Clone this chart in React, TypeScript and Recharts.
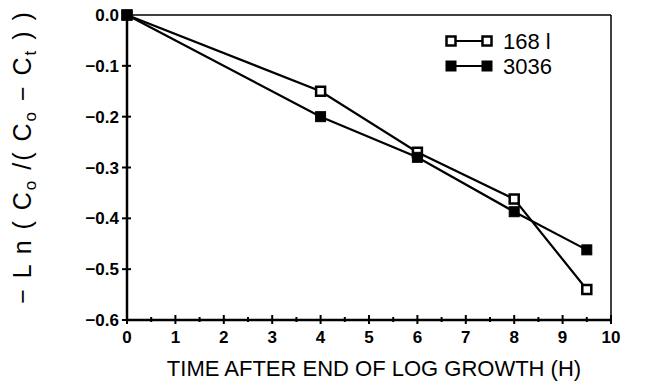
import React from "react";
import { LineChart, Line, XAxis, YAxis, ReferenceLine } from "recharts";

const times = [0, 4, 6, 8, 9.5];
const series1681 = [0, -0.15, -0.27, -0.362, -0.54];
const series3036 = [0, -0.2, -0.28, -0.387, -0.462];
const xTicks = [0, 0.5, 1, 1.5, 2, 2.5, 3, 3.5, 4, 4.5, 5, 5.5, 6, 6.5, 7, 7.5, 8, 8.5, 9, 9.5, 10];
const yTicks = [0, -0.1, -0.2, -0.3, -0.4, -0.5, -0.6];
const legendLabels = ["168 l", "3036"];
const xTitle = "TIME AFTER END OF LOG GROWTH (H)";

const data = times.map((t, i) => ({ t, a: series1681[i], b: series3036[i] }));

const FONT = "'Liberation Sans', Arial, sans-serif";

const OpenSq = (props: any) => {
  const { cx, cy } = props;
  if (cx == null || cy == null) return null;
  return <rect x={cx - 4.5} y={cy - 4.5} width={9} height={9} fill="#fff" stroke="#000" strokeWidth={2.5} />;
};
const FillSq = (props: any) => {
  const { cx, cy } = props;
  if (cx == null || cy == null) return null;
  return <rect x={cx - 5} y={cy - 5} width={10} height={10} fill="#000" stroke="#000" strokeWidth={1} />;
};

const XTick = (props: any) => {
  const { x, y, payload } = props;
  const v = payload.value;
  const major = Number.isInteger(v);
  return (
    <g>
      <line x1={x} x2={x} y1={y - (major ? 5 : 3)} y2={y + (major ? 4 : 2)} stroke="#000" strokeWidth={2} />
      {major && (
        <text x={x} y={y + 23} textAnchor="middle" fontFamily={FONT} fontWeight="bold" fontSize={17} fill="#000">
          {v}
        </text>
      )}
    </g>
  );
};

const YTick = (props: any) => {
  const { x, y, payload } = props;
  const v = payload.value;
  const label = v === 0 ? "0.0" : "\u2212" + Math.abs(v).toFixed(1);
  return (
    <g>
      <line x1={x - 5} x2={x + 4} y1={y} y2={y} stroke="#000" strokeWidth={2} />
      <text x={x - 8} y={y + 6} textAnchor="end" fontFamily={FONT} fontWeight="bold" fontSize={17} fill="#000">
        {label}
      </text>
    </g>
  );
};

const YTitle = () => (
  <text transform="translate(31,157) rotate(-90)" textAnchor="middle" fontFamily={FONT} fontSize={25} fill="#000" letterSpacing={2}>
    <tspan>{"\u2212 L n ( C"}</tspan>
    <tspan fontSize={17} dy={5}>o</tspan>
    <tspan dy={-5}>{" /( C"}</tspan>
    <tspan fontSize={17} dy={5}>o</tspan>
    <tspan dy={-5}>{" \u2212 C"}</tspan>
    <tspan fontSize={17} dy={5}>t</tspan>
    <tspan dy={-5}>{" ) )"}</tspan>
  </text>
);

const LegendBox = () => (
  <svg width={160} height={70} style={{ position: "absolute", left: 444, top: 21, overflow: "visible" }}>
    <line x1={7} x2={43} y1={20} y2={20} stroke="#000" strokeWidth={1.8} />
    <OpenSq cx={7} cy={20} />
    <OpenSq cx={43} cy={20} />
    <text x={59} y={28} fontFamily={FONT} fontSize={22} fill="#000">{legendLabels[0]}</text>
    <line x1={7} x2={43} y1={45} y2={45} stroke="#000" strokeWidth={1.8} />
    <FillSq cx={7} cy={45} />
    <FillSq cx={43} cy={45} />
    <text x={59} y={53} fontFamily={FONT} fontSize={22} fill="#000">{legendLabels[1]}</text>
  </svg>
);

export default function App() {
  return (
    <div style={{ position: "absolute", left: 0, top: 0, width: 648, height: 389, background: "#fff" }}>
      <LineChart width={648} height={389} data={data} margin={{ top: 15, right: 37, bottom: 0, left: 0 }}>
        <XAxis
          dataKey="t"
          type="number"
          domain={[0, 10]}
          ticks={xTicks}
          interval={0}
          height={69}
          tickLine={false}
          tickSize={0}
          tickMargin={0}
          tick={<XTick />}
          axisLine={{ stroke: "#000", strokeWidth: 2.5 }}
          label={{
            content: () => (
              <text x={374} y={376} textAnchor="middle" fontFamily={FONT} fontSize={22} fill="#000">
                {xTitle}
              </text>
            ),
          }}
        />
        <YAxis
          type="number"
          domain={[-0.6, 0]}
          ticks={yTicks}
          interval={0}
          width={127}
          tickLine={false}
          tickSize={0}
          tickMargin={0}
          tick={<YTick />}
          axisLine={{ stroke: "#000", strokeWidth: 2.5 }}
          label={{ content: () => <YTitle /> }}
        />
        <ReferenceLine y={0} stroke="#000" strokeWidth={1.5} />
        <ReferenceLine x={10} stroke="#000" strokeWidth={1.5} />
        <Line dataKey="a" stroke="#000" strokeWidth={2.2} dot={<OpenSq />} isAnimationActive={false} legendType="none" />
        <Line dataKey="b" stroke="#000" strokeWidth={2.2} dot={<FillSq />} isAnimationActive={false} legendType="none" />
      </LineChart>
      <LegendBox />
    </div>
  );
}
